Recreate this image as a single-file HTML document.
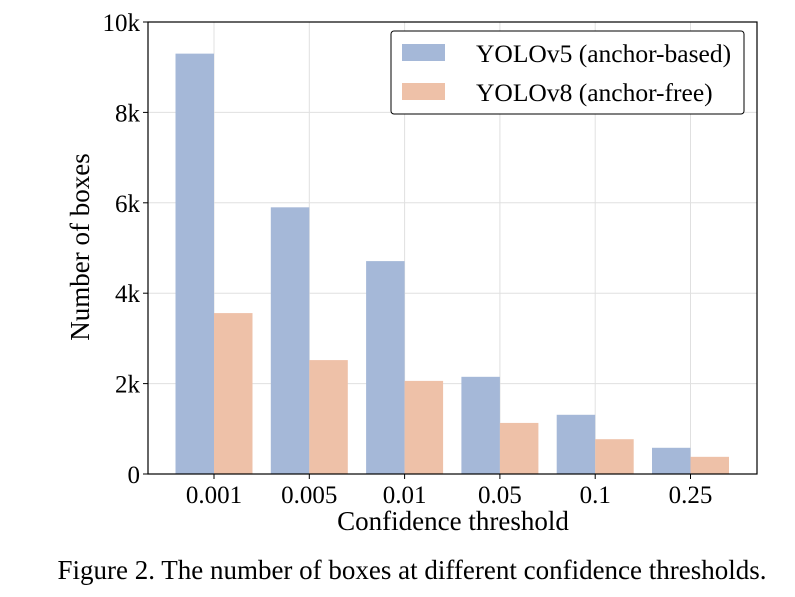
<!DOCTYPE html>
<html><head><meta charset="utf-8"><style>
body{margin:0;background:#fff;}
svg text{font-family:"Liberation Serif",serif;fill:#000;}
</style></head><body>
<svg width="795" height="592" viewBox="0 0 795 592" xmlns="http://www.w3.org/2000/svg">
<g id="grid"></g>
<g id="bars"></g>
<rect x="148" y="22" width="609" height="452" fill="none" stroke="#000" stroke-width="1.2"/>
<g id="ticks"></g>
<text transform="translate(89,247) rotate(-90)" text-anchor="middle" font-size="27">Number of boxes</text>
<text x="453" y="530" text-anchor="middle" font-size="27">Confidence threshold</text>
<text x="412" y="579" text-anchor="middle" font-size="27">Figure 2. The number of boxes at different confidence thresholds.</text>
<g>
<rect x="391" y="31" width="353" height="83" rx="3" fill="#fff" stroke="#000" stroke-width="1"/>
<rect x="402" y="44" width="43" height="17" fill="#a5b8d8"/>
<text x="476" y="62" font-size="25.5">YOLOv5 (anchor-based)</text>
<rect x="402" y="83" width="43" height="17" fill="#eec1a8"/>
<text x="476" y="101" font-size="25.5">YOLOv8 (anchor-free)</text>
</g>
</svg>
<script>
const categories=["0.001","0.005","0.01","0.05","0.1","0.25"];
const yolov5=[9300,5900,4710,2150,1310,580];
const yolov8=[3560,2520,2060,1130,770,380];
const yTicks=[0,2000,4000,6000,8000,10000];
const yTickLabels=["0","2k","4k","6k","8k","10k"];
const NS="http://www.w3.org/2000/svg";
const L=148,R=757,T=22,B=474,yMax=10000;
const step=95.3,first=214,bw=38.5;
function x(i){return first+i*step;}
function y(v){return B-(v/yMax)*(B-T);}
function mk(tag,attrs,parent){const e=document.createElementNS(NS,tag);for(const k in attrs)e.setAttribute(k,attrs[k]);parent.appendChild(e);return e;}
const grid=document.getElementById('grid'),bars=document.getElementById('bars'),ticks=document.getElementById('ticks');
yTicks.forEach((t,i)=>{
 const g=mk('line',{x1:L,x2:R,y1:y(t),y2:y(t),stroke:'#e0e0e0','stroke-width':1},grid);
 
 
 const tk=mk('line',{x1:L-5,x2:L,y1:y(t),y2:y(t),stroke:'#000'},ticks);
 
 
 const tx=mk('text',{x:L-8,y:y(t)+9,'text-anchor':'end','font-size':25},ticks);
 tx.textContent=yTickLabels[i];
 
 
});
categories.forEach((c,i)=>{
 const g=mk('line',{x1:x(i),x2:x(i),y1:T,y2:B,stroke:'#e0e0e0','stroke-width':1},grid);
 
 
 const b1=mk('rect',{x:x(i)-bw,y:y(yolov5[i]),width:bw,height:B-y(yolov5[i]),fill:'#a5b8d8'},bars);
 
 
 const b2=mk('rect',{x:x(i),y:y(yolov8[i]),width:bw,height:B-y(yolov8[i]),fill:'#eec1a8'},bars);
 
 
 const tk=mk('line',{x1:x(i),x2:x(i),y1:B,y2:B+5,stroke:'#000'},ticks);
 
 
 const tx=mk('text',{x:x(i),y:B+29,'text-anchor':'middle','font-size':25},ticks);
 tx.textContent=c;
 
 
});
</script>
</body></html>
